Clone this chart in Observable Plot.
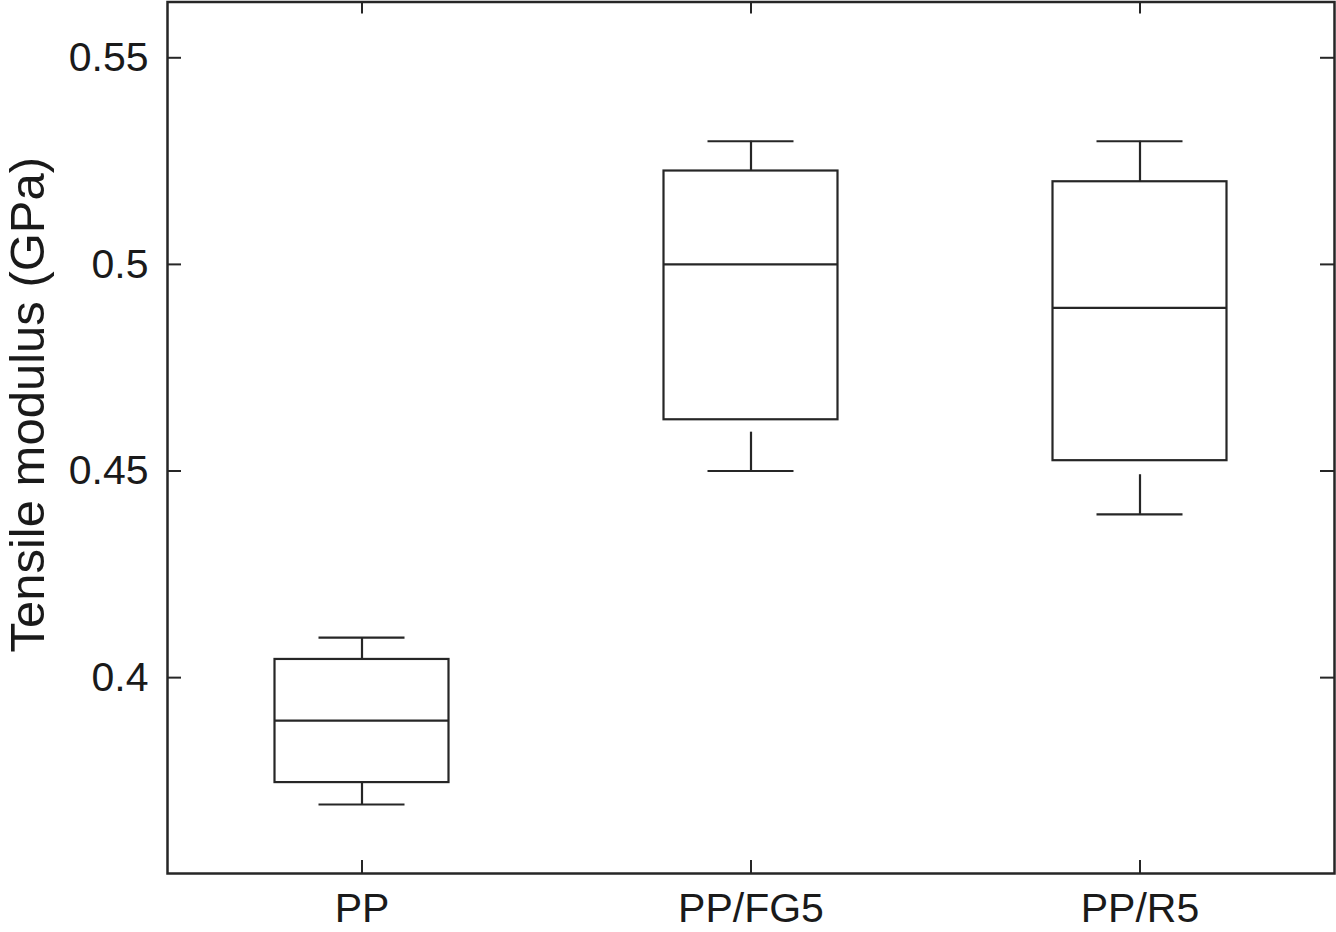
<!DOCTYPE html>
<html>
<head>
<meta charset="utf-8">
<script src="https://cdn.jsdelivr.net/npm/d3@7"></script>
<script src="https://cdn.jsdelivr.net/npm/@observablehq/plot@0.6"></script>
<style>
  html, body { margin: 0; padding: 0; background: #fff; }
  #chart svg { display: block; }
</style>
</head>
<body>
<div id="chart"></div>
<script>
// Data
const categories = ["PP", "PP/FG5", "PP/R5"];
const maxs       = [0.4097, 0.5298, 0.5298];
const q3s        = [0.4044, 0.5226, 0.5200];
const medians    = [0.3896, 0.5000, 0.4895];
const q1s        = [0.3746, 0.4624, 0.4525];
const lowStarts  = [0.3746, 0.4594, 0.4491];
const mins       = [0.3693, 0.4500, 0.4395];
const yTicks     = [0.4, 0.45, 0.5, 0.55];
const yLabel     = "Tensile modulus (GPa)";

const rows = categories.map((c, i) => ({
  cat: c, max: maxs[i], q3: q3s[i], med: medians[i], q1: q1s[i], low: lowStarts[i], min: mins[i]
}));

const W = 1336, H = 932;
const mL = 167, mR = 2, mT = 1.5, mB = 59;
const plotW = W - mL - mR, plotH = H - mT - mB;
const step = plotW / categories.length;
const boxW = 174, capW = 86;
const boxInset = (step - boxW) / 2, capInset = (step - capW) / 2;
const ink = "#262626";
const font = "'Liberation Sans', Arial, Helvetica, sans-serif";

const chart = Plot.plot({
  width: W, height: H,
  marginLeft: mL, marginRight: mR, marginTop: mT, marginBottom: mB,
  style: { fontFamily: font, background: "#fff", color: ink, overflow: "visible" },
  x: { type: "band", domain: categories, padding: 0, label: null },
  y: { domain: [0.3526, 0.5635], label: null },
  marks: [
    // boxes
    Plot.rect(rows, { x: "cat", y1: "q1", y2: "q3", insetLeft: boxInset, insetRight: boxInset, fill: "none", stroke: ink, strokeWidth: 2.2 }),
    // medians
    Plot.tickY(rows, { x: "cat", y: "med", insetLeft: boxInset, insetRight: boxInset, stroke: ink, strokeWidth: 2.2 }),
    // whiskers
    Plot.ruleX(rows, { x: "cat", y1: "q3", y2: "max", stroke: ink, strokeWidth: 2.2 }),
    Plot.ruleX(rows, { x: "cat", y1: "low", y2: "min", stroke: ink, strokeWidth: 2.2 }),
    // caps
    Plot.tickY(rows, { x: "cat", y: "max", insetLeft: capInset, insetRight: capInset, stroke: ink, strokeWidth: 2.2 }),
    Plot.tickY(rows, { x: "cat", y: "min", insetLeft: capInset, insetRight: capInset, stroke: ink, strokeWidth: 2.2 }),
    // inward ticks: left, right
    Plot.tickY(yTicks, { y: d => d, insetRight: plotW - 14, stroke: ink, strokeWidth: 2 }),
    Plot.tickY(yTicks, { y: d => d, insetLeft: plotW - 14, stroke: ink, strokeWidth: 2 }),
    // inward ticks: top, bottom
    Plot.tickX(categories, { x: d => d, insetBottom: plotH - 12, stroke: ink, strokeWidth: 2 }),
    Plot.tickX(categories, { x: d => d, insetTop: plotH - 13, stroke: ink, strokeWidth: 2 }),
    // axes labels
    Plot.axisY({ ticks: yTicks, tickFormat: d => String(d), tickSize: 0, tickPadding: 19, fontSize: 41, label: null, fill: "#1a1a1a" }),
    Plot.axisX({ tickSize: 0, tickPadding: 19, fontSize: 41, label: null, fill: "#1a1a1a" }),
    // y title
    Plot.text([yLabel], { text: d => d, frameAnchor: "left", rotate: -90, dx: 28 - mL, dy: -33, fontSize: 49, fill: "#1a1a1a", lineAnchor: "middle", textAnchor: "middle" }),
    // frame
    Plot.frame({ stroke: ink, strokeWidth: 2.5 })
  ]
});
document.getElementById("chart").appendChild(chart);
</script>
</body>
</html>
